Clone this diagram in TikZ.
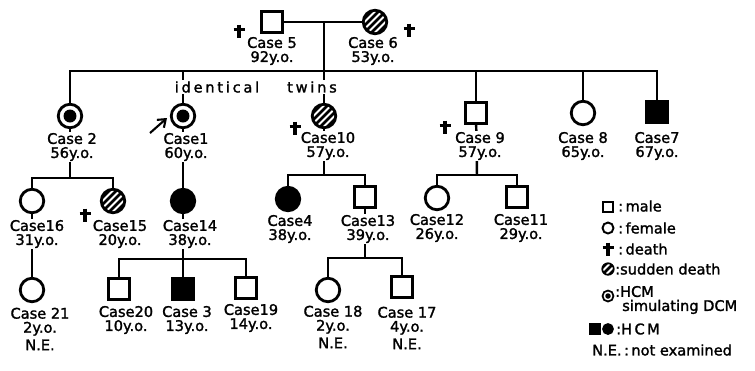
\documentclass[tikz,border=0pt]{standalone}
\usepackage{fontspec}
\setmainfont{DejaVu Sans}[FakeBold=1.6]
\usetikzlibrary{arrows.meta}
\pgfdeclarelayer{background}
\pgfsetlayers{background,main}

\tikzset{
  every node/.style={font=\fontsize{8.3}{8}\selectfont},
  male/.style={draw, rectangle, line width=1.6pt, fill=white, minimum size=0.43cm, inner sep=0pt},
  female/.style={draw, circle, line width=1.6pt, fill=white, minimum size=0.47cm, inner sep=0pt},
  hcm/.style={fill=black},
  sudden/.style={fill=black, path picture={
      \foreach \k in {-10.5,-3.5,3.5,10.5}
        \draw[white, line width=1.1pt] ([shift={(\k-14,14)}]path picture bounding box.center) -- ++(28,-28);}},
  hcmdcm/.style={path picture={\fill[black] (path picture bounding box.center) circle (#1);}},
  hcmdcm/.default=0.13cm,
  caselabel/.style={align=center, fill=white, inner sep=0.6pt},
  legendtext/.style={anchor=west, inner sep=0pt},
  twinlabel/.style={fill=white, inner sep=0.5pt, font=\fontsize{8.3}{8}\selectfont\addfontfeature{LetterSpace=19}},
  descent/.style={line width=1.4pt},
  deathcross/.pic={\draw[line width=1.8pt] (0,-6.5) -- (0,6.5) (-5.5,-1.5) -- (5.5,-1.5);}
}

\begin{document}
\begin{tikzpicture}[x=0.02cm, y=-0.02cm, line width=1.4pt]
\useasboundingbox (0,0) rectangle (755,370);

% parents
\node[male] (p5) at (272,22) {};
\node[female, sudden] (p6) at (375,22) {};
\node[caselabel] (l5) at (272,51) {Case 5\\92y.o.};
\node[caselabel] (l6) at (373,51) {Case 6\\53y.o.};
\pic at (239,31) {deathcross};
\pic at (409,30) {deathcross};
\coordinate (m56) at (324,22);
\coordinate (s1) at (324,71);

% second generation
\node[female, hcmdcm] (p2) at (70,116) {};
\node[caselabel] (l2) at (72,147) {Case 2\\56y.o.};
\node[female, hcmdcm] (p1) at (183,116) {};
\node[caselabel] (l1) at (186,147) {Case1\\60y.o.};
\node[female, sudden] (p10) at (324,116) {};
\node[caselabel] (l10) at (328,146) {Case10\\57y.o.};
\pic at (295,128) {deathcross};
\node[male] (p9) at (476,113) {};
\node[caselabel] (l9) at (480,146) {Case 9\\57y.o.};
\pic at (445,127) {deathcross};
\node[female] (p8) at (583,113) {};
\node[caselabel] (l8) at (583,146) {Case 8\\65y.o.};
\node[male, hcm] (p7) at (657,112) {};
\node[caselabel] (l7) at (657,146) {Case7\\67y.o.};
\node[twinlabel] (ident) at (217,87) {identical};
\node[twinlabel] (twins) at (312,87) {twins};
\coordinate (probtail) at (150,133);
\coordinate (probtip) at (167,118);
\draw[-{Straight Barb[length=4pt,width=6pt]}, line width=1.2pt] (probtail) -- (probtip);

% third generation
\coordinate (s2) at (70,178);
\node[female] (p16) at (32,201) {};
\node[caselabel] (l16) at (37,234) {Case16\\31y.o.};
\node[female, sudden] (p15) at (113,201) {};
\node[caselabel] (l15) at (120,234) {Case15\\20y.o.};
\pic at (85,215) {deathcross};
\node[female, hcm] (p14) at (183,201) {};
\node[caselabel] (l14) at (190,234) {Case14\\38y.o.};
\coordinate (s10) at (324,175);
\node[female, hcm] (p4) at (288,199) {};
\node[caselabel] (l4) at (290,229) {Case4\\38y.o.};
\node[male] (p13) at (365,197) {};
\node[caselabel] (l13) at (368,229) {Case13\\39y.o.};
\coordinate (s9) at (477,175);
\node[female] (p12) at (437,198) {};
\node[caselabel] (l12) at (437,228) {Case12\\26y.o.};
\node[male] (p11) at (517,197) {};
\node[caselabel] (l11) at (521,228) {Case11\\29y.o.};

% fourth generation
\node[female] (p21) at (32,290) {};
\node[caselabel] (l21) at (40,329) {Case 21\\2y.o.\\[2pt]N.E.};
\coordinate (s14) at (183,259);
\node[male] (p20) at (119,289) {};
\node[caselabel] (l20) at (126,320) {Case20\\10y.o.};
\node[male, hcm] (p3) at (183,289) {};
\node[caselabel] (l3) at (187,320) {Case 3\\13y.o.};
\node[male] (p19) at (246,288) {};
\node[caselabel] (l19) at (251,318) {Case19\\14y.o.};
\coordinate (s13) at (365,258);
\node[female] (p18) at (328,290) {};
\node[caselabel] (l18) at (333,327) {Case 18\\2y.o.\\[2pt]N.E.};
\node[male] (p17) at (402,287) {};
\node[caselabel] (l17) at (407,328) {Case 17\\4y.o.\\[2pt]N.E.};

% legend
\node[male, minimum size=0.2cm, line width=1.1pt] (lgmale) at (608,207) {};
\node[legendtext] (tmale) at (617,206) {:\,male};
\node[female, minimum size=0.22cm, line width=1.1pt] (lgfemale) at (608,228) {};
\node[legendtext] (tfemale) at (617,228) {:\,female};
\pic at (608,249) {deathcross};
\node[legendtext] (tdeath) at (617,249) {:\,death};
\node[female, sudden, minimum size=0.23cm, line width=1pt] (lgsudden) at (608,269) {};
\node[legendtext] (tsudden) at (614,269) {:sudden death};
\node[female, hcmdcm=0.055cm, minimum size=0.22cm, line width=1pt] (lgdcm) at (608,296) {};
\node[legendtext, align=left] (tdcm) at (614,300) {:HCM\\\hspace{4pt}simulating DCM};
\node[male, hcm, minimum size=0.21cm, line width=1pt] (lghcmsq) at (595,329) {};
\node[female, hcm, minimum size=0.2cm, line width=1pt] (lghcmci) at (608,329) {};
\node[legendtext] (thcm) at (615,329) {:H\,C\,M};
\node[legendtext] (tne) at (591,350) {N.E.\,:\,not examined};

% lines of descent
\begin{pgfonlayer}{background}
\begin{scope}[descent]
\draw (p5) -- (p6);
\draw (m56) -- (s1);
\draw (p2) |- (s1) -| (p7);
\foreach \k in {p1,p10,p9,p8}
  \draw (\k) -- (\k |- s1);
\draw (p2) -- (s2);
\draw (p16) |- (s2) -| (p15);
\draw (p1) -- (p14);
\draw (p10) -- (s10);
\draw (p4) |- (s10) -| (p13);
\draw (p9) -- (s9);
\draw (p12) |- (s9) -| (p11);
\draw (p16) -- (p21);
\draw (p14) -- (p3);
\draw (p20) |- (s14) -| (p19);
\draw (p13) -- (s13);
\draw (p18) |- (s13) -| (p17);
\end{scope}
\end{pgfonlayer}
\end{tikzpicture}
\end{document}
